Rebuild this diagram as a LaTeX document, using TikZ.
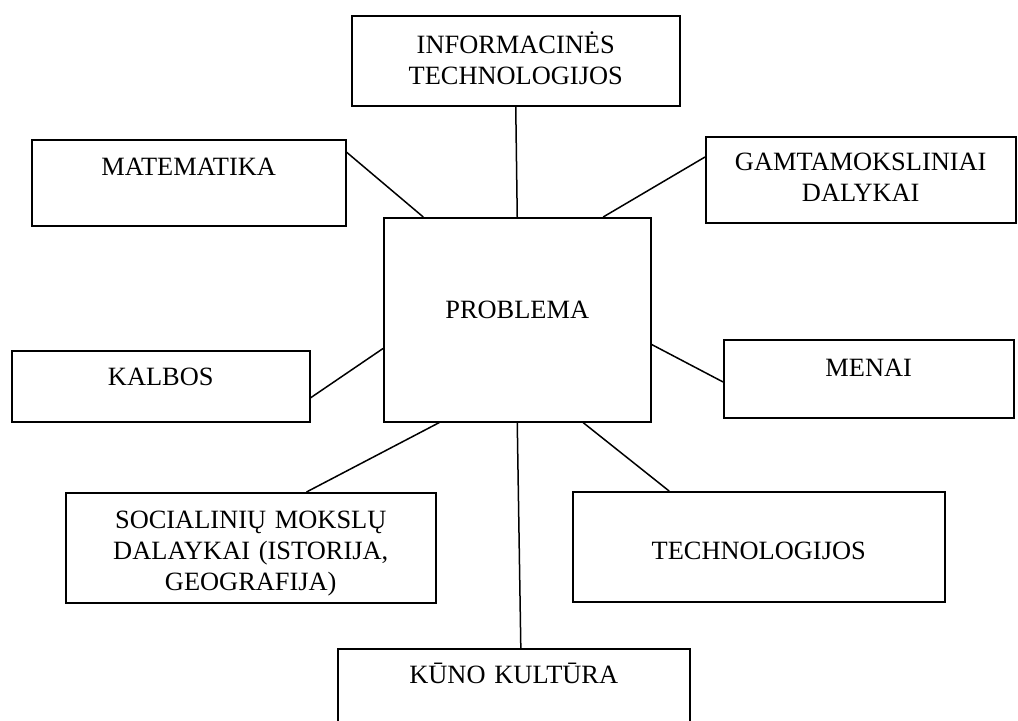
\documentclass[tikz,border=0pt]{standalone}
\usepackage{fontspec}
\setmainfont{Liberation Serif}
\usetikzlibrary{calc}
\tikzset{
    x=0.5pt, y=-0.5pt, % one unit is one pixel of the sketch, y runs downwards
    }

\begin{document}
\begin{tikzpicture}[
subjbox/.style={draw=black, line width=0.75pt, rectangle, anchor=north west, inner sep=0pt, align=center, font=\fontsize{13.2}{15.5}\selectfont},
linkline/.style={draw=black, line width=0.75pt},
]
\clip (0,0) rectangle (1018,720);

\node[subjbox, text width=164pt, text height=19pt, text depth=26pt] (inf) at (351,15) {INFORMACINĖS\\TECHNOLOGIJOS};
\node[subjbox, text width=157pt, text height=18pt, text depth=25pt] (mat) at (31,139) {MATEMATIKA};
\node[subjbox, text width=155pt, text height=17pt, text depth=26pt] (gamta) at (705,136) {GAMTAMOKSLINIAI\\DALYKAI};
\node[subjbox, text width=133.5pt, text height=50.5pt, text depth=51.5pt] (prob) at (383,217) {PROBLEMA};
\node[subjbox, text width=149pt, text height=17.5pt, text depth=18pt] (kalbos) at (11,350) {KALBOS};
\node[subjbox, text width=145pt, text height=18.5pt, text depth=20.5pt] (menai) at (723,339) {MENAI};
\node[subjbox, text width=185pt, text height=18pt, text depth=37pt] (social) at (65,492) {SOCIALINIŲ MOKSLŲ\\DALAYKAI (ISTORIJA,\\GEOGRAFIJA)};
\node[subjbox, text width=186pt, text height=34pt, text depth=21pt] (tech) at (572,491) {TECHNOLOGIJOS};
\node[subjbox, text width=176pt, text height=17.5pt, text depth=22.5pt] (kuno) at (337,648) {KŪNO KULTŪRA};

% links to the centre
\draw[linkline] (inf.south) -- (prob.north);
\draw[linkline] ($(mat.north east)!0.15!(mat.south east)$) -- ($(prob.north west)!0.15!(prob.north east)$);
\draw[linkline] ($(gamta.north west)!0.24!(gamta.south west)$) -- ($(prob.north west)!0.82!(prob.north east)$);
\draw[linkline] ($(kalbos.north east)!0.66!(kalbos.south east)$) -- ($(prob.north west)!0.64!(prob.south west)$);
\draw[linkline] ($(menai.north west)!0.54!(menai.south west)$) -- ($(prob.north east)!0.62!(prob.south east)$);
\draw[linkline] ($(prob.south west)!0.21!(prob.south east)$) -- ($(social.north west)!0.65!(social.north east)$);
\draw[linkline] ($(prob.south west)!0.745!(prob.south east)$) -- ($(tech.north west)!0.26!(tech.north east)$);
\draw[linkline] ($(prob.south west)!0.5!(prob.south east)$) -- ($(kuno.north west)!0.52!(kuno.north east)$);
\end{tikzpicture}
\end{document}
